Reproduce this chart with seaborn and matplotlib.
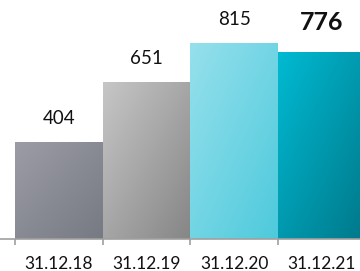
import numpy as np
import pandas as pd
import matplotlib
matplotlib.use("Agg")
import matplotlib.pyplot as plt
import seaborn as sns
from matplotlib.colors import LinearSegmentedColormap

categories = ["31.12.18", "31.12.19", "31.12.20", "31.12.21"]
values = [404, 651, 815, 776]
label_text = ["404", "651", "815", "776"]
bold_flags = [False, False, False, True]
# gradient (top-left, bottom-right)
grad_colors = [("#9c9ca6", "#767a82"), ("#c6c6c6", "#868686"),
               ("#96e0ec", "#4ecadc"), ("#00bad2", "#00788a")]

sns.set_theme(style="white")
plt.rcParams['font.family'] = ['Lato', 'DejaVu Sans']

df = pd.DataFrame({"cat": categories, "val": values})

fig = plt.figure(figsize=(3.6, 2.71), dpi=100)
ax = fig.add_axes([0, 32 / 271, 1, 239 / 271])
sns.barplot(data=df, x="cat", y="val", ax=ax, width=1.0, color="#cccccc",
            saturation=1, edgecolor="none", linewidth=0)

ax.set_xlim(-0.5 - 15 / 87.7, -0.5 + 345 / 87.7)
ax.set_ylim(0, 239 / 0.2405)

# gradients clipped to bars
yy, xx = np.mgrid[0:1:64j, 0:1:64j]
t = (xx + yy) / 2.0
for patch, (c1, c2) in zip(ax.patches, grad_colors):
    x0, y0 = patch.get_x(), patch.get_y()
    w, h = patch.get_width(), patch.get_height()
    cmap = LinearSegmentedColormap.from_list("g", [c1, c2])
    im = ax.imshow(t, cmap=cmap, extent=[x0, x0 + w, y0, y0 + h],
                   origin="upper", aspect="auto", zorder=2,
                   interpolation="bilinear", vmin=0, vmax=1)
    im.set_clip_path(patch)
    patch.set_facecolor("none")

for i, (v, txt, b) in enumerate(zip(values, label_text, bold_flags)):
    ax.annotate(txt, (i, v), xytext=(0, 11 if not b else 13),
                textcoords="offset points", ha="center", va="bottom",
                fontsize=18 if b else 13.5,
                fontweight="bold" if b else "normal", color="#111111")

for s in ["top", "right", "left"]:
    ax.spines[s].set_visible(False)
ax.spines["bottom"].set_color("#a0a0a0")
ax.spines["bottom"].set_linewidth(1.2)
ax.set_yticks([])
ax.set_xlabel("")
ax.set_ylabel("")
ax.set_xticks(range(len(categories)))
ax.set_xticklabels(categories, fontsize=12.5, color="#111111")
ax.tick_params(axis="x", which="major", length=0, pad=12)
ax.set_xticks([-0.5, 0.5, 1.5, 2.5], minor=True)
ax.tick_params(axis="x", which="minor", length=4, width=1.2, color="#a0a0a0",
               direction="out", bottom=True)

fig.savefig("out.png", dpi=100)
